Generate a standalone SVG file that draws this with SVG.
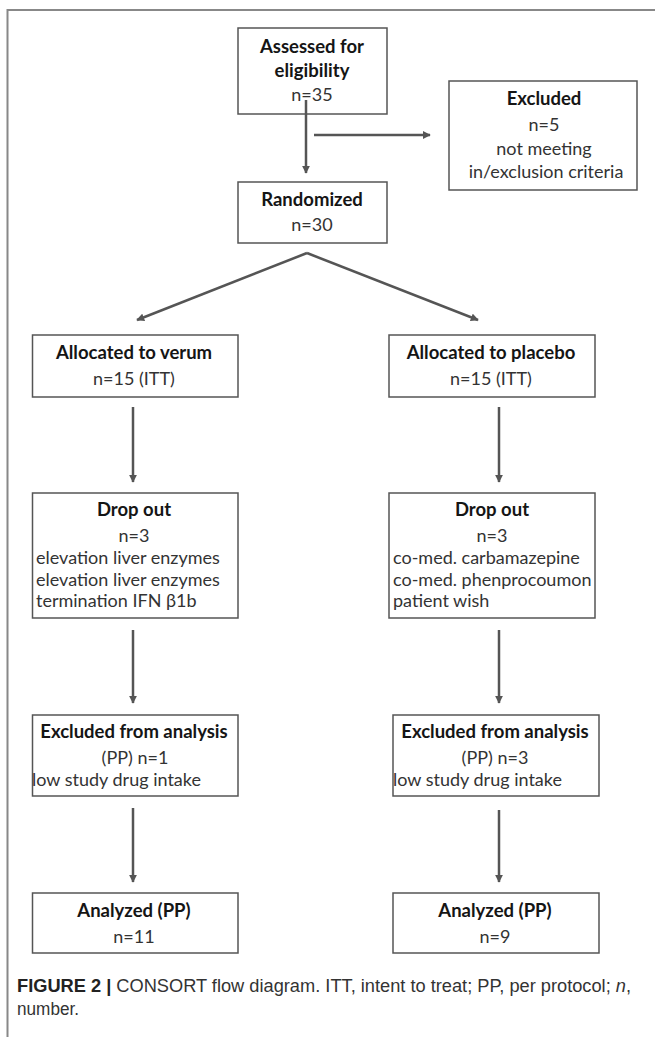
<svg xmlns="http://www.w3.org/2000/svg" width="655" height="1037" viewBox="0 0 655 1037">
<defs>
<style>
.box{fill:#fff;stroke:#555;stroke-width:1.5}
.b{font-family:Lato,"Liberation Sans",sans-serif;font-weight:bold;font-size:18.5px;fill:#151515;text-anchor:middle}
.r{font-family:Lato,"Liberation Sans",sans-serif;font-size:18px;fill:#333;text-anchor:middle}
.l{font-family:Lato,"Liberation Sans",sans-serif;font-size:18px;fill:#333}
.c{stroke:#555;stroke-width:2.5;fill:none;marker-end:url(#ah)}
.cap{font-family:"Liberation Sans",Arial,sans-serif;font-size:17.5px;fill:#333}
</style>
<marker id="ah" viewBox="0 0 10 10" refX="9" refY="5" markerWidth="3.2" markerHeight="3.2" orient="auto" markerUnits="strokeWidth">
<path d="M0,0 L10,5 L0,10 Z" fill="#555"/>
</marker>
</defs>
<rect width="655" height="1037" fill="#fff"/>
<path d="M7.5,1037 V10 H655" fill="none" stroke="#888" stroke-width="2"/>

<g id="n-assessed">
<rect class="box" x="238" y="28" width="149" height="86"/>
<text class="b" x="312" y="53">Assessed  for</text>
<text class="b" x="312" y="77">eligibility</text>
<text class="r" x="312" y="101">n=35</text>
</g>
<g id="n-excluded">
<rect class="box" x="449" y="81" width="188" height="109"/>
<text class="b" x="544" y="105">Excluded</text>
<text class="r" x="544" y="131">n=5</text>
<text class="r" x="544" y="155">not meeting</text>
<text class="r" x="546" y="178">in/exclusion criteria</text>
</g>
<g id="n-randomized">
<rect class="box" x="238" y="182" width="149" height="61"/>
<text class="b" x="312" y="206">Randomized</text>
<text class="r" x="312" y="231">n=30</text>
</g>
<g id="n-verum">
<rect class="box" x="32.5" y="335" width="205.5" height="62"/>
<text class="b" x="134" y="359">Allocated to verum</text>
<text class="r" x="134" y="385">n=15 (ITT)</text>
</g>
<g id="n-placebo">
<rect class="box" x="389" y="335" width="206" height="62"/>
<text class="b" x="491" y="359">Allocated to placebo</text>
<text class="r" x="491" y="385">n=15 (ITT)</text>
</g>
<g id="n-dropout-verum">
<rect class="box" x="32.5" y="493" width="205.5" height="125"/>
<text class="b" x="134" y="516">Drop out</text>
<text class="r" x="134" y="542">n=3</text>
<text class="l" x="36" y="564">elevation liver enzymes</text>
<text class="l" x="36" y="586">elevation liver enzymes</text>
<text class="l" x="36" y="607">termination IFN β1b</text>
</g>
<g id="n-dropout-placebo">
<rect class="box" x="389" y="493" width="206" height="125"/>
<text class="b" x="492" y="516">Drop out</text>
<text class="r" x="492" y="542">n=3</text>
<text class="l" x="393" y="564">co-med. carbamazepine</text>
<text class="l" x="393" y="586">co-med. phenprocoumon</text>
<text class="l" x="393" y="607">patient wish</text>
</g>
<g id="n-excl-verum">
<rect class="box" x="32.5" y="715" width="205.5" height="81"/>
<text class="b" x="134" y="738">Excluded from analysis</text>
<text class="r" x="135" y="764">(PP) n=1</text>
<text class="l" x="32" y="786">low study drug intake</text>
</g>
<g id="n-excl-placebo">
<rect class="box" x="393" y="715" width="206" height="81"/>
<text class="b" x="495" y="738">Excluded from analysis</text>
<text class="r" x="495" y="764">(PP) n=3</text>
<text class="l" x="393" y="786">low study drug intake</text>
</g>
<g id="n-analyzed-verum">
<rect class="box" x="32.5" y="893" width="205.5" height="60"/>
<text class="b" x="134" y="917">Analyzed (PP)</text>
<text class="r" x="134" y="943">n=11</text>
</g>
<g id="n-analyzed-placebo">
<rect class="box" x="393" y="893" width="206" height="60"/>
<text class="b" x="495" y="917">Analyzed (PP)</text>
<text class="r" x="495" y="943">n=9</text>
</g>

<g id="connectors">
<path class="c" d="M306,100 V173"/>
<path class="c" d="M314,135 H430"/>
<path class="c" d="M307,253 L137,320"/>
<path class="c" d="M307,253 L478,320"/>
<path class="c" d="M133,407 V482"/>
<path class="c" d="M499,407 V482"/>
<path class="c" d="M133,630 V703"/>
<path class="c" d="M499,630 V703"/>
<path class="c" d="M133,808 V882"/>
<path class="c" d="M499,810 V882"/>
</g>

<g id="caption">
<text class="cap" x="17" y="992" textLength="614" lengthAdjust="spacingAndGlyphs"><tspan font-weight="bold" fill="#222">FIGURE 2 |</tspan> CONSORT flow diagram. ITT, intent to treat; PP, per protocol; <tspan font-style="italic">n</tspan>,</text>
<text class="cap" x="17" y="1015" textLength="62" lengthAdjust="spacingAndGlyphs">number.</text>
</g>
</svg>
